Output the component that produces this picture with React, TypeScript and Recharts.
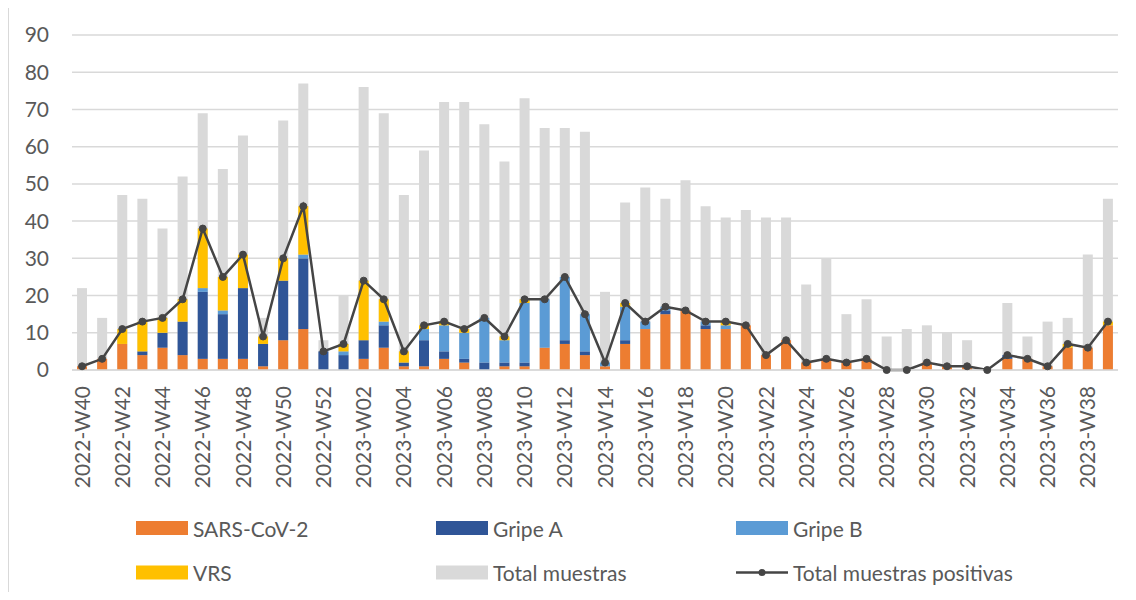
import {
  Bar,
  CartesianGrid,
  ComposedChart,
  Line,
  XAxis,
  YAxis,
} from "recharts";

const WEEKS = [
  "2022-W40", "2022-W41", "2022-W42", "2022-W43", "2022-W44", "2022-W45", "2022-W46",
  "2022-W47", "2022-W48", "2022-W49", "2022-W50", "2022-W51", "2022-W52",
  "2023-W01", "2023-W02", "2023-W03", "2023-W04", "2023-W05", "2023-W06", "2023-W07",
  "2023-W08", "2023-W09", "2023-W10", "2023-W11", "2023-W12", "2023-W13", "2023-W14",
  "2023-W15", "2023-W16", "2023-W17", "2023-W18", "2023-W19", "2023-W20", "2023-W21",
  "2023-W22", "2023-W23", "2023-W24", "2023-W25", "2023-W26", "2023-W27", "2023-W28",
  "2023-W29", "2023-W30", "2023-W31", "2023-W32", "2023-W33", "2023-W34", "2023-W35",
  "2023-W36", "2023-W37", "2023-W38", "2023-W39",
];

const TOTAL_MUESTRAS = [
  22, 14, 47, 46, 38, 52, 69, 54, 63, 14, 67, 77, 8,
  20, 76, 69, 47, 59, 72, 72, 66, 56, 73, 65, 65, 64, 21,
  45, 49, 46, 51, 44, 41, 43, 41, 41, 23, 30, 15, 19, 9,
  11, 12, 10, 8, 0, 18, 9, 13, 14, 31, 46,
];

const SARS_COV_2 = [
  1, 3, 7, 4, 6, 4, 3, 3, 3, 1, 8, 11, 0,
  0, 3, 6, 1, 1, 3, 2, 0, 1, 1, 6, 7, 4, 1,
  7, 11, 15, 16, 11, 11, 12, 4, 8, 2, 3, 2, 3, 0,
  0, 2, 1, 1, 0, 3, 3, 1, 6, 6, 12,
];

const GRIPE_A = [
  0, 0, 0, 1, 4, 9, 18, 12, 19, 6, 16, 19, 5,
  4, 5, 6, 1, 7, 2, 1, 2, 1, 1, 0, 1, 1, 0,
  1, 0, 1, 0, 1, 0, 0, 0, 0, 0, 0, 0, 0, 0,
  0, 0, 0, 0, 0, 1, 0, 0, 0, 0, 0,
];

const GRIPE_B = [
  0, 0, 0, 0, 0, 0, 1, 1, 0, 0, 0, 1, 0,
  1, 0, 1, 0, 3, 7, 7, 12, 6, 16, 13, 17, 10, 1,
  9, 2, 1, 0, 1, 1, 0, 0, 0, 0, 0, 0, 0, 0,
  0, 0, 0, 0, 0, 0, 0, 0, 0, 0, 0,
];

const VRS = [
  0, 0, 4, 8, 4, 6, 16, 9, 9, 2, 6, 13, 0,
  2, 16, 6, 3, 1, 1, 1, 0, 1, 1, 0, 0, 0, 0,
  1, 0, 0, 0, 0, 1, 0, 0, 0, 0, 0, 0, 0, 0,
  0, 0, 0, 0, 0, 0, 0, 0, 1, 0, 1,
];

const TOTAL_POSITIVAS = [
  1, 3, 11, 13, 14, 19, 38, 25, 31, 9, 30, 44, 5,
  7, 24, 19, 5, 12, 13, 11, 14, 9, 19, 19, 25, 15, 2,
  18, 13, 17, 16, 13, 13, 12, 4, 8, 2, 3, 2, 3, 0,
  0, 2, 1, 1, 0, 4, 3, 1, 7, 6, 13,
];

const Y_TICKS = [0, 10, 20, 30, 40, 50, 60, 70, 80, 90];

const COLORS = {
  sars: "#ED7D31",
  gripeA: "#2F5597",
  gripeB: "#5B9BD5",
  vrs: "#FFC000",
  total: "#D9D9D9",
  line: "#454545",
  text: "#595959",
  grid: "#D9D9D9",
};

const FONT = "Lato, 'Open Sans', sans-serif";

const data = WEEKS.map((week, i) => ({
  week,
  total: TOTAL_MUESTRAS[i],
  sars: SARS_COV_2[i],
  gripeA: GRIPE_A[i],
  gripeB: GRIPE_B[i],
  vrs: VRS[i],
  positivas: TOTAL_POSITIVAS[i],
}));

// vertical week labels, read bottom-to-top
function WeekTick({ x, y, payload }: { x?: number; y?: number; payload?: { value: string } }) {
  return (
    <text
      transform={`translate(${x},${y}) rotate(-90)`}
      textAnchor="end"
      dy="0.36em"
      fontSize={21}
      fontFamily={FONT}
      fill={COLORS.text}
    >
      {payload?.value}
    </text>
  );
}

type LegendItem = { label: string; color: string; kind: "box" | "line"; x: number; y: number };

const LEGEND: LegendItem[] = [
  { label: "SARS-CoV-2", color: COLORS.sars, kind: "box", x: 136, y: 528 },
  { label: "Gripe A", color: COLORS.gripeA, kind: "box", x: 436, y: 528 },
  { label: "Gripe B", color: COLORS.gripeB, kind: "box", x: 736, y: 528 },
  { label: "VRS", color: COLORS.vrs, kind: "box", x: 136, y: 572.5 },
  { label: "Total muestras", color: COLORS.total, kind: "box", x: 436, y: 572.5 },
  { label: "Total muestras positivas", color: COLORS.line, kind: "line", x: 736, y: 572.5 },
];

function ChartLegend() {
  return (
    <svg width={1136} height={600} style={{ position: "absolute", left: 0, top: 0, pointerEvents: "none" }}>
      {LEGEND.map((item) => (
        <g key={item.label}>
          {item.kind === "box" ? (
            <rect x={item.x} y={item.y - 7} width={52} height={14} fill={item.color} />
          ) : (
            <>
              <line x1={item.x} x2={item.x + 52} y1={item.y} y2={item.y} stroke={item.color} strokeWidth={2.5} />
              <circle cx={item.x + 26} cy={item.y} r={3.5} fill={item.color} />
            </>
          )}
          <text
            x={item.x + 57}
            y={item.y}
            dominantBaseline="central"
            fontSize={21}
            fontFamily={FONT}
            fill={COLORS.text}
          >
            {item.label}
          </text>
        </g>
      ))}
    </svg>
  );
}

export default function App() {
  return (
    <div
      style={{
        position: "relative",
        margin: -8,
        width: 1136,
        height: 600,
        overflow: "hidden",
        background: "#fff",
        fontFamily: FONT,
      }}
    >
      <div
        style={{
          position: "absolute",
          left: 7,
          top: 5,
          width: 1200,
          height: 700,
          border: `2px solid ${COLORS.grid}`,
        }}
      />
      <div style={{ position: "absolute", left: 0, top: 0 }}>
        <ComposedChart
          width={1136}
          height={600}
          data={data}
          margin={{ top: 35, right: 18, bottom: 0, left: 0 }}
          barCategoryGap="25%"
        >
          <CartesianGrid vertical={false} stroke={COLORS.grid} strokeWidth={1.5} />
          <XAxis
            xAxisId="main"
            dataKey="week"
            height={230}
            interval={1}
            tick={<WeekTick />}
            tickLine={false}
            tickMargin={10}
            axisLine={{ stroke: COLORS.grid, strokeWidth: 1.5 }}
          />
          {/* second category axis so the stacked bars sit on top of the sample bars */}
          <XAxis xAxisId="stack" dataKey="week" hide />
          <YAxis
            width={72}
            domain={[0, 90]}
            ticks={Y_TICKS}
            interval={0}
            tickLine={false}
            axisLine={false}
            tickMargin={17}
            tick={{ fontSize: 21, fill: COLORS.text, fontFamily: FONT }}
          />
          <Bar xAxisId="main" dataKey="total" name="Total muestras" fill={COLORS.total} isAnimationActive={false} />
          <Bar xAxisId="stack" stackId="virus" dataKey="sars" name="SARS-CoV-2" fill={COLORS.sars} isAnimationActive={false} />
          <Bar xAxisId="stack" stackId="virus" dataKey="gripeA" name="Gripe A" fill={COLORS.gripeA} isAnimationActive={false} />
          <Bar xAxisId="stack" stackId="virus" dataKey="gripeB" name="Gripe B" fill={COLORS.gripeB} isAnimationActive={false} />
          <Bar xAxisId="stack" stackId="virus" dataKey="vrs" name="VRS" fill={COLORS.vrs} isAnimationActive={false} />
          <Line
            xAxisId="main"
            dataKey="positivas"
            name="Total muestras positivas"
            stroke={COLORS.line}
            strokeWidth={2.5}
            dot={{ r: 3.5, fill: COLORS.line, stroke: COLORS.line, strokeWidth: 1 }}
            isAnimationActive={false}
          />
        </ComposedChart>
      </div>
      <ChartLegend />
    </div>
  );
}
